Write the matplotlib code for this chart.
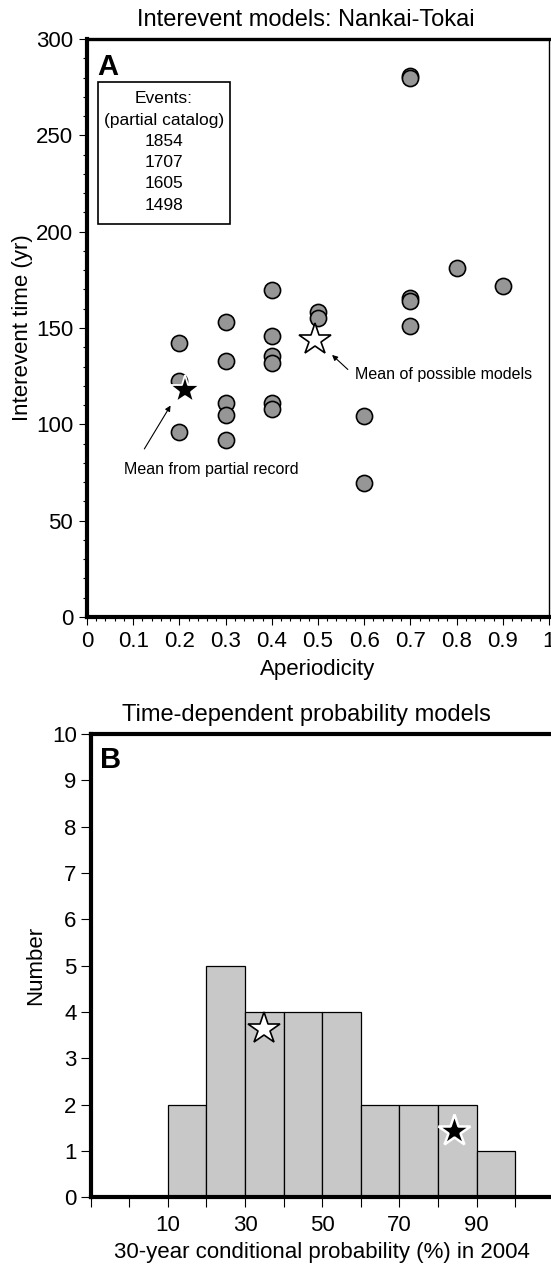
import matplotlib
matplotlib.use("Agg")
import matplotlib.pyplot as plt
from matplotlib.patches import Rectangle
from matplotlib.ticker import MultipleLocator, FuncFormatter

plt.rcParams['font.family'] = ['Liberation Sans', 'DejaVu Sans']

# Panel A: interevent models (aperiodicity vs interevent time)
aperiodicity = [0.2, 0.2, 0.2,
                0.3, 0.3, 0.3, 0.3, 0.3,
                0.4, 0.4, 0.4, 0.4, 0.4, 0.4,
                0.5, 0.5,
                0.6, 0.6,
                0.7, 0.7, 0.7, 0.7, 0.7,
                0.8, 0.9]
interevent = [142, 122.5, 96,
              153, 133, 111, 104.7, 92,
              169.7, 146, 135.5, 132, 111.2, 107.8,
              158.3, 155,
              104.5, 69.4,
              280.8, 279.6, 165.7, 164, 151,
              181.3, 172]
partial_mean = (0.212, 118)
models_mean = (0.493, 143.8)
catalog_events = ["1854", "1707", "1605", "1498"]

# Panel B: histogram of 30-year conditional probabilities
bin_left = [10, 20, 30, 40, 50, 60, 70, 80, 90]
bin_count = [2, 5, 4, 4, 4, 2, 2, 2, 1]
bin_width = 10
hist_models_mean = (34.8, 3.63)
hist_partial_mean = (84.1, 1.44)

W, H = 551, 1265
fig = plt.figure(figsize=(W / 100, H / 100), dpi=100)


def px_axes(left, top, right, bottom):
    return fig.add_axes([left / W, 1 - bottom / H, (right - left) / W, (bottom - top) / H])


# ---------------- Panel A ----------------
ax = px_axes(87, 39, 549, 617)
ax.scatter(aperiodicity, interevent, s=135, c='#969696', edgecolors='black',
           linewidths=1.2, zorder=3, clip_on=False)
ax.plot(*partial_mean, marker='*', ms=22, mfc='black', mec='white', mew=1.3,
        ls='none', zorder=4)
ax.plot(*models_mean, marker='*', ms=24, mfc='white', mec='black', mew=1.2,
        ls='none', zorder=4)

ax.set_xlim(0, 1)
ax.set_ylim(0, 300)
ax.xaxis.set_major_locator(MultipleLocator(0.1))
ax.xaxis.set_minor_locator(MultipleLocator(0.02))
ax.yaxis.set_major_locator(MultipleLocator(50))
ax.yaxis.set_minor_locator(MultipleLocator(10))
ax.xaxis.set_major_formatter(FuncFormatter(lambda v, p: '%g' % round(v, 2)))
ax.tick_params(which='major', direction='out', length=6, width=0.8, labelsize=16, pad=4)
ax.tick_params(which='minor', direction='out', length=3, width=0.8)
ax.spines['left'].set_linewidth(3)
ax.spines['bottom'].set_linewidth(3)
ax.spines['top'].set_linewidth(2.4)
ax.spines['right'].set_linewidth(1)
ax.set_xlabel('Aperiodicity', fontsize=16, labelpad=5)
ax.set_ylabel('Interevent time (yr)', fontsize=16, labelpad=2)
ax.set_title('Interevent models: Nankai-Tokai', fontsize=17, x=0.474, pad=9)
ax.text(0.022, 0.975, 'A', transform=ax.transAxes, fontsize=21, fontweight='bold',
        va='top', ha='left')

# events box
ax.add_patch(Rectangle((0.0238, 0.680), 0.2857, 0.2456, transform=ax.transAxes,
                       fc='white', ec='black', lw=1.2, zorder=2))
box_lines = ["Events:", "(partial catalog)"] + catalog_events
for i, line in enumerate(box_lines):
    ax.text(0.166, 0.8963 - i * 0.0367, line, transform=ax.transAxes, fontsize=12.5,
            ha='center', va='center', zorder=3)

ax.annotate('', xy=(0.526, 137), xytext=(0.569, 127.5),
            arrowprops=dict(arrowstyle='-|>', color='black', lw=0.8, mutation_scale=8))
ax.text(0.58, 126, 'Mean of possible models', fontsize=11.5, va='center', ha='left')
ax.annotate('', xy=(0.184, 111), xytext=(0.121, 86),
            arrowprops=dict(arrowstyle='-|>', color='black', lw=0.8, mutation_scale=8))
ax.text(0.268, 76.8, 'Mean from partial record', fontsize=11.5, va='center', ha='center')

# ---------------- Panel B ----------------
bx = px_axes(90.6, 734, 553.8, 1197.3)
bx.bar(bin_left, bin_count, width=bin_width, align='edge', color='#c8c8c8',
       edgecolor='black', linewidth=0.9, zorder=2)
bx.plot(*hist_models_mean, marker='*', ms=24, mfc='white', mec='black', mew=1.2,
        ls='none', zorder=4)
bx.plot(*hist_partial_mean, marker='*', ms=24, mfc='black', mec='white', mew=1.8,
        ls='none', zorder=4)

bx.set_xlim(-10, 110)
bx.set_ylim(0, 10)
xt = list(range(-10, 111, 10))
bx.set_xticks(xt, [str(v) if v in (10, 30, 50, 70, 90) else '' for v in xt])
bx.yaxis.set_major_locator(MultipleLocator(1))
bx.tick_params(direction='out', length=7, width=0.8, labelsize=16, pad=3)
bx.tick_params(axis='x', pad=6)
for side in ('left', 'bottom', 'top'):
    bx.spines[side].set_linewidth(3)
bx.spines['right'].set_linewidth(1)
bx.set_xlabel('30-year conditional probability (%) in 2004', fontsize=16, labelpad=4)
bx.set_ylabel('Number', fontsize=16, labelpad=4)
bx.set_title('Time-dependent probability models', fontsize=17, x=0.467, pad=9)
bx.text(0.02, 0.975, 'B', transform=bx.transAxes, fontsize=21, fontweight='bold',
        va='top', ha='left')

fig.savefig('out.png', dpi=100)
